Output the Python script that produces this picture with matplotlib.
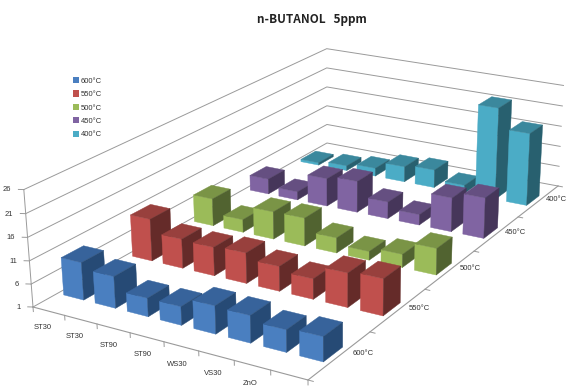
"""n-BUTANOL 5ppm: respuesta por material y temperatura, barras 3D con camara calibrada."""
import numpy as np
import matplotlib
matplotlib.use("Agg")
import matplotlib.pyplot as plt
from matplotlib.collections import PolyCollection
from matplotlib.patches import Patch

plt.rcParams["font.family"] = ["Liberation Sans", "DejaVu Sans"]

TITLE = "n-BUTANOL   5ppm"
MATERIALS = ["ST30", "ST30", "ST90", "ST90", "WS30", "VS30", "ZnO", "ZnO"]
TEMPS = ["600°C", "550°C", "500°C", "450°C", "400°C"]
Z_TICKS = [1, 6, 11, 16, 21, 26]

T600 = [9.2, 7.9, 5.0, 5.0, 7.0, 6.8, 5.7, 6.2]
T550 = [10.5, 7.6, 7.4, 7.8, 6.5, 5.5, 8.5, 9.0]
T500 = [7.4, 4.0, 7.4, 7.5, 4.5, 3.0, 4.0, 7.0]
T450 = [4.7, 3.0, 7.7, 8.5, 5.0, 3.5, 9.0, 10.5]
T400 = [1.6, 2.2, 3.0, 4.8, 5.4, 3.0, 23.3, 18.5]
SERIES = [T600, T550, T500, T450, T400]

# front, top, side of each series
COLORS = [("#4a7fc0", "#37639b", "#264a75"),
          ("#c0504d", "#98403d", "#652b29"),
          ("#9bbb59", "#7a9446", "#516330"),
          ("#8064a2", "#654f81", "#46365a"),
          ("#4bacc6", "#3b889d", "#28606f")]
GRID = "#9a9a9a"
TEXT = "#333333"

BAR_U = (0.20, 0.84)
BAR_V = (0.33, 0.64)

# camera calibration: floor corners and the z=26 corners, in figure pixels
FLOOR = [((0, 0), (33, 307)), ((8, 0), (308, 380)), ((8, 5), (558, 186)), ((0, 5), (327, 143))]
TOPS = [((0, 0), (24, 191)), ((0, 5), (327, 48)), ((8, 5), (563, 85))]


def camera():
    rows, rhs = [], []
    for (u, v), (x, y) in FLOOR:
        rows.append([u, v, 1, 0, 0, 0, -x * u, -x * v])
        rhs.append(x)
        rows.append([0, 0, 0, u, v, 1, -y * u, -y * v])
        rhs.append(y)
    h = np.linalg.solve(np.array(rows, float), np.array(rhs, float))
    h = np.append(h, 1.0).reshape(3, 3)

    rows, rhs = [], []
    dz = Z_TICKS[-1] - Z_TICKS[0]
    for (u, v), (x, y) in TOPS:
        q = h @ np.array([u, v, 1.0])
        rows.append([dz, 0, -x * dz])
        rhs.append(x * q[2] - q[0])
        rows.append([0, dz, -y * dz])
        rhs.append(y * q[2] - q[1])
    col, *_ = np.linalg.lstsq(np.array(rows), np.array(rhs), rcond=None)
    return h, col


H, ZCOL = camera()


def proj(u, v, z):
    p = H @ np.array([u, v, 1.0]) + ZCOL * (z - Z_TICKS[0])
    return p[0] / p[2], p[1] / p[2]


def bar_faces(i, j, val):
    u0, u1 = i + BAR_U[0], i + BAR_U[1]
    v0, v1 = j + BAR_V[0], j + BAR_V[1]
    z0 = Z_TICKS[0]
    front = [proj(u0, v0, z0), proj(u1, v0, z0), proj(u1, v0, val), proj(u0, v0, val)]
    top = [proj(u0, v0, val), proj(u1, v0, val), proj(u1, v1, val), proj(u0, v1, val)]
    side = [proj(u1, v0, z0), proj(u1, v1, z0), proj(u1, v1, val), proj(u1, v0, val)]
    return front, top, side


def draw_frame(ax):
    n, m = len(MATERIALS), len(TEMPS)
    for z in Z_TICKS:
        pts = [proj(0, 0, z), proj(0, m, z), proj(n, m, z)]
        ax.plot(*zip(*pts), color=GRID, lw=0.7, zorder=1)
        ax.plot(*zip(proj(0, 0, z), proj(-0.12, -0.02, z)), color=GRID, lw=0.7, zorder=1)
        x, y = proj(-0.25, -0.06, z)
        ax.text(x, y, str(z), ha="right", va="center", fontsize=5.5, color=TEXT)
    ax.plot(*zip(proj(0, 0, Z_TICKS[0]), proj(0, 0, Z_TICKS[-1])), color=GRID, lw=0.7, zorder=1)
    ax.plot(*zip(proj(0, 0, 1), proj(n, 0, 1), proj(n, m, 1)), color=GRID, lw=0.8, zorder=1)

    # floor ticks hang straight down below the z=1 plane
    for i in range(n + 1):
        ax.plot(*zip(proj(i, 0, 1), proj(i, 0, 0)), color=GRID, lw=0.7, zorder=1)
    for j in range(m + 1):
        ax.plot(*zip(proj(n, j, 1), proj(n + 0.14, j, 1)), color=GRID, lw=0.7, zorder=1)

    for i, name in enumerate(MATERIALS):
        x, y = proj(i + 0.97, -0.28, 1)
        ax.text(x, y, name, ha="center", va="center", fontsize=5.5, color=TEXT)
    for j, name in enumerate(TEMPS):
        x, y = proj(n + 0.42, j + 0.62, 1)
        ax.text(x, y, name, ha="center", va="center", fontsize=5.5, color=TEXT)


def draw_bars(ax):
    # back row first, left to right, so nearer faces paint over farther ones
    order = 2
    for j in reversed(range(len(SERIES))):
        for i, val in enumerate(SERIES[j]):
            faces = bar_faces(i, j, val)
            cols = COLORS[j]
            pc = PolyCollection(faces, facecolors=cols, edgecolors=cols, linewidths=0.3, zorder=order)
            ax.add_collection(pc)
            order += 1


def main():
    fig = plt.figure(figsize=(5.72, 3.88), dpi=100)
    ax = fig.add_axes([0, 0, 1, 1])
    ax.set_xlim(0, 572)
    ax.set_ylim(388, 0)
    ax.axis("off")

    draw_frame(ax)
    draw_bars(ax)

    ax.text(311.5, 19.5, TITLE, ha="center", va="center", fontsize=8.5, fontweight="bold",
            family=["Noto Sans CJK KR", "DejaVu Sans"], color="#222222")

    handles = [Patch(facecolor=c[0], edgecolor="none", label=t) for c, t in zip(COLORS, TEMPS)]
    ax.legend(handles=handles, loc="upper left", bbox_to_anchor=(73 / 572, 1 - 77 / 388),
              frameon=False, fontsize=5.5, handlelength=0.85, handleheight=0.85, handletextpad=0.2,
              labelspacing=0.75, borderpad=0, borderaxespad=0, labelcolor=TEXT)

    fig.savefig("out.png", dpi=100)


if __name__ == "__main__":
    main()
